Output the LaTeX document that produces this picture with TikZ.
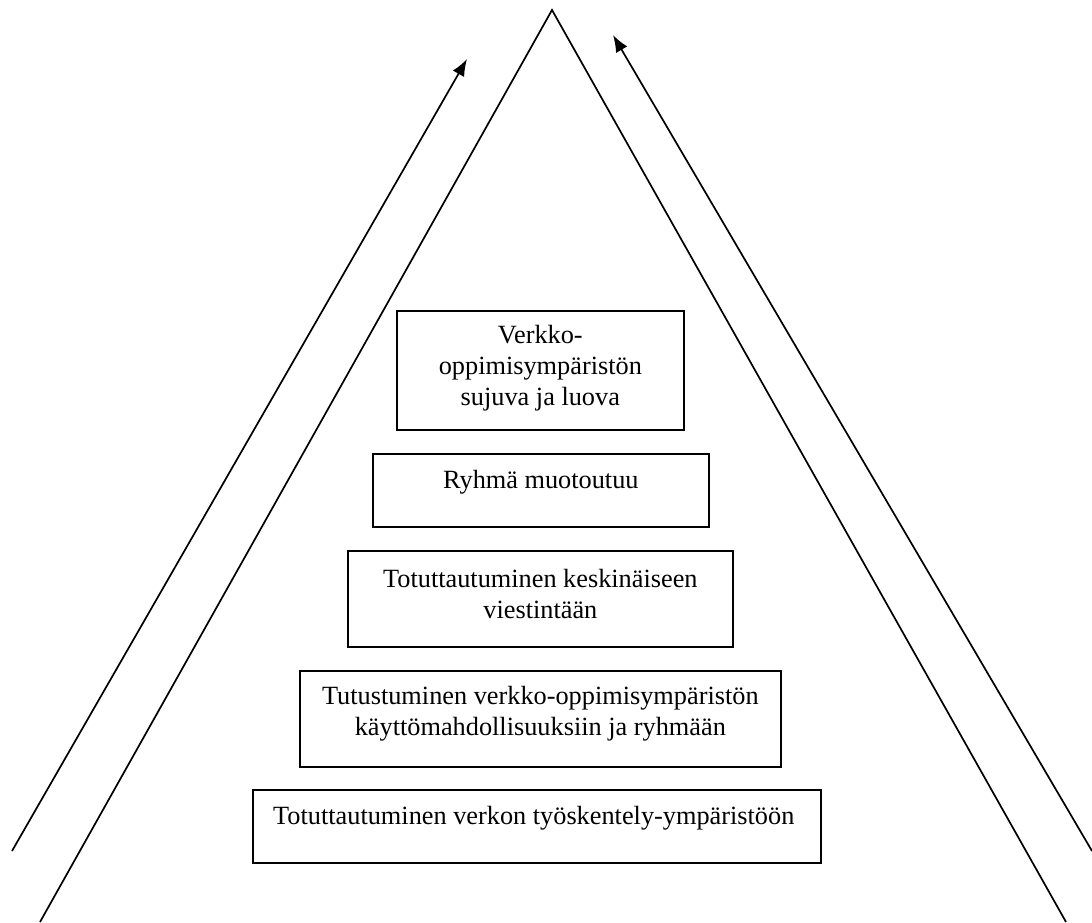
\documentclass[tikz,border=0pt]{standalone}
\usepackage{fontspec}
\setmainfont{Liberation Serif}
\usetikzlibrary{arrows.meta}
\begin{document}
\begin{tikzpicture}[x=1pt,y=-1pt,
  stage/.style={draw, line width=1.7pt, anchor=north west, inner sep=0pt},
  caption/.style={align=center, inner sep=0pt, font=\fontsize{26.3}{31}\selectfont},
  edge/.style={line width=1.7pt},
  rise/.style={line width=1.7pt, -{Latex[length=17pt,width=13pt]}}]
\useasboundingbox (0,0) rectangle (1092,922);
% pyramid outline
\coordinate (apex) at (552,10);
\coordinate (baseL) at (40,922);
\coordinate (baseR) at (1066,922);
\draw[edge] (baseL) -- (apex) -- (baseR);
% rising arrows on both sides
\coordinate (lowL) at (12,851);
\coordinate (tipL) at (467,59);
\coordinate (lowR) at (1092,851);
\coordinate (tipR) at (613,35);
\draw[rise] (lowL) -- (tipL);
\draw[rise] (lowR) -- (tipR);
% stage frames, top to bottom
\node[stage, minimum width=287pt, minimum height=119pt] (s5) at (396,310) {};
\node[stage, minimum width=336pt, minimum height=73pt] (s4) at (372,453) {};
\node[stage, minimum width=385pt, minimum height=96pt] (s3) at (347,550) {};
\node[stage, minimum width=481pt, minimum height=96pt] (s2) at (299,670) {};
\node[stage, minimum width=568pt, minimum height=73pt] (s1) at (252,789) {};
% stage texts, set a little above the middle of each frame
\node[caption] (t5) at ([yshift=2pt]s5.center) {Verkko-\\oppimisympäristön\\sujuva ja luova};
\node[caption] (t4) at ([yshift=8pt]s4.center) {Ryhmä muotoutuu};
\node[caption] (t3) at ([yshift=5pt]s3.center) {Totuttautuminen keskinäiseen\\viestintään};
\node[caption] (t2) at ([yshift=5pt]s2.center) {Tutustuminen verkko-oppimisympäristön\\käyttömahdollisuuksiin ja ryhmään};
\node[caption, anchor=west] (t1) at ([xshift=21pt,yshift=8pt]s1.west) {Totuttautuminen verkon työskentely-ympäristöön};
\end{tikzpicture}
\end{document}
